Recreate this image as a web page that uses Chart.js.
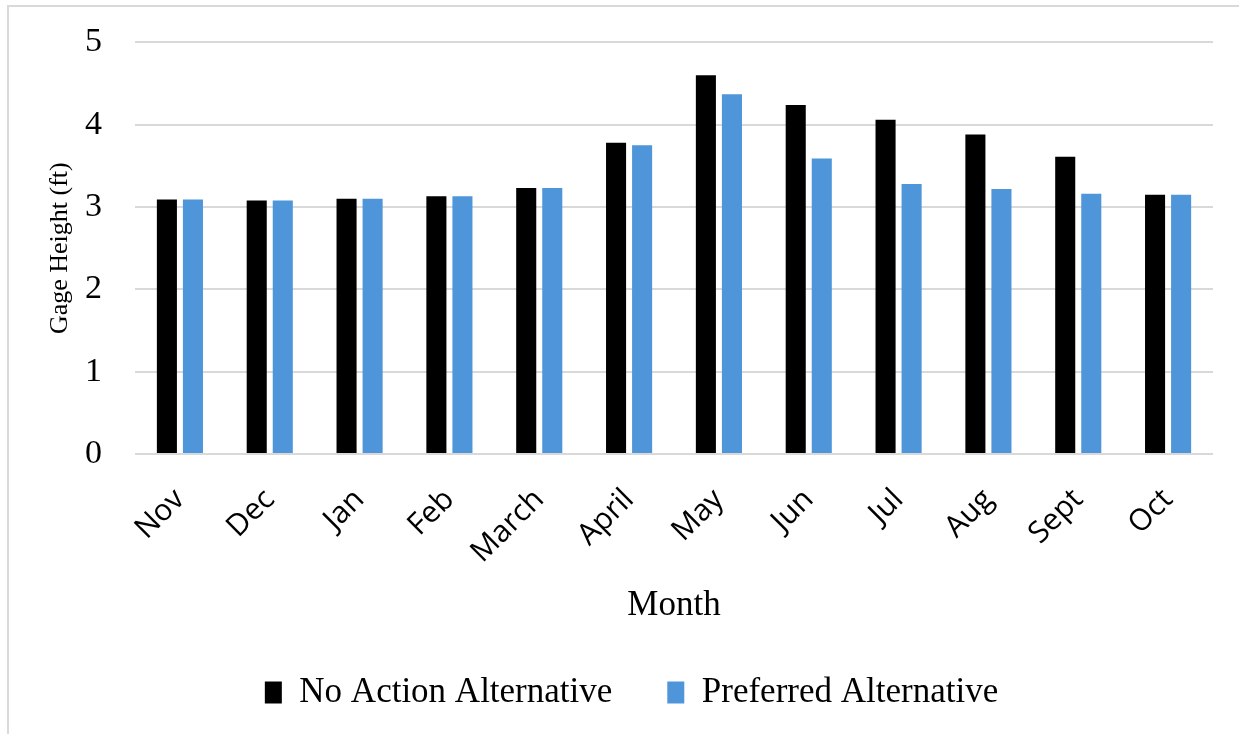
<!DOCTYPE html>
<html>
<head>
<meta charset="utf-8">
<script src="https://cdn.jsdelivr.net/npm/chart.js@4/dist/chart.umd.min.js"></script>
<style>
  html, body { margin: 0; padding: 0; background: #ffffff; }
  #wrap { position: relative; width: 1239px; height: 734px; overflow: hidden; }
  #frame {
    position: absolute; left: 7px; top: 5px; width: 1300px; height: 800px;
    border-left: 2px solid #d9d9d9; border-top: 2px solid #d9d9d9;
  }
  canvas { position: absolute; left: 0; top: 0; }
</style>
</head>
<body>
<div id="wrap">
  <div id="frame"></div>
  <canvas id="chart" width="1239" height="734"></canvas>
</div>
<script>
// Monthly gage height, ft
const months = ['Nov', 'Dec', 'Jan', 'Feb', 'March', 'April', 'May', 'Jun', 'Jul', 'Aug', 'Sept', 'Oct'];
const noActionAlternative = [3.09, 3.08, 3.10, 3.13, 3.23, 3.78, 4.60, 4.24, 4.06, 3.88, 3.61, 3.15];
const preferredAlternative = [3.09, 3.08, 3.10, 3.13, 3.23, 3.75, 4.37, 3.59, 3.28, 3.22, 3.16, 3.15];
const yTicks = [0, 1, 2, 3, 4, 5];

const serif = "'Liberation Serif', 'Times New Roman', serif";
const sans = "'Open Sans', 'Liberation Sans', sans-serif";
const gridGray = '#d9d9d9';

new Chart(document.getElementById('chart'), {
  type: 'bar',
  data: {
    labels: months,
    datasets: [
      {
        label: 'No Action Alternative',
        data: noActionAlternative,
        backgroundColor: '#000000',
        barPercentage: 0.77,
        categoryPercentage: 0.58
      },
      {
        label: 'Preferred Alternative',
        data: preferredAlternative,
        backgroundColor: '#4f95da',
        barPercentage: 0.77,
        categoryPercentage: 0.58
      }
    ]
  },
  options: {
    responsive: false,
    animation: false,
    devicePixelRatio: 1,
    layout: { padding: { left: 50, right: 26, top: 0, bottom: 14 } },
    plugins: {
      tooltip: { enabled: false },
      legend: {
        position: 'bottom',
        labels: {
          color: '#000000',
          font: { family: serif, size: 35 },
          boxWidth: 17,
          boxHeight: 22,
          padding: 55,
          useBorderRadius: false
        }
      }
    },
    scales: {
      x: {
        afterFit: (axis) => { axis.height = 166; },
        grid: { display: false, drawTicks: false },
        border: { display: false },
        ticks: {
          color: '#000000',
          font: { family: sans, size: 30 },
          minRotation: 45,
          maxRotation: 45,
          padding: 28
        },
        title: {
          display: true,
          text: 'Month',
          color: '#000000',
          font: { family: serif, size: 35, lineHeight: 0.8 },
          padding: { top: 0, bottom: 0 }
        }
      },
      y: {
        min: 0,
        max: 5,
        afterBuildTicks: (axis) => { axis.ticks = yTicks.map(v => ({ value: v })); },
        afterFit: (axis) => { axis.width = 85; },
        grid: { color: gridGray, lineWidth: 2, drawTicks: false },
        border: { display: false },
        ticks: {
          color: '#000000',
          font: { family: serif, size: 34, lineHeight: 0.55 },
          padding: 33
        },
        title: {
          display: true,
          text: 'Gage Height (ft)',
          color: '#000000',
          font: { family: serif, size: 26, lineHeight: 1 },
          padding: { top: -3, bottom: 0 }
        }
      }
    }
  }
});
</script>
</body>
</html>
